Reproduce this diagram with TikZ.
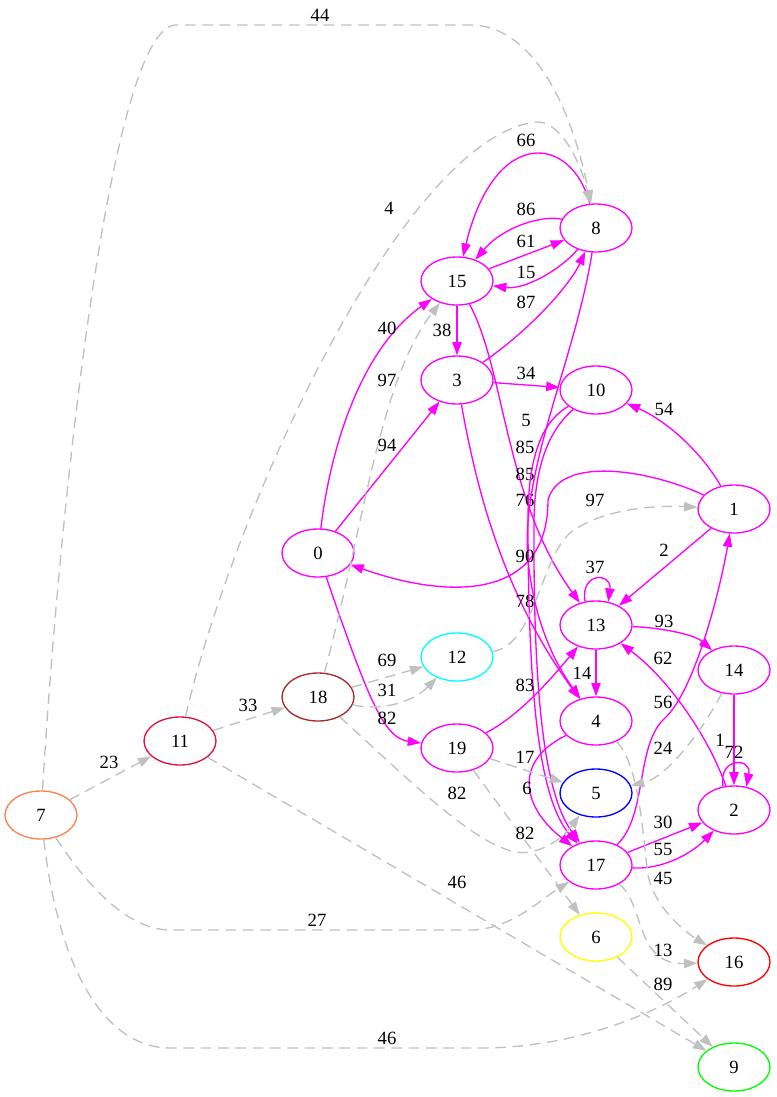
\documentclass[tikz,border=0pt]{standalone}
\usepackage{fontspec}
\setmainfont{Liberation Serif}
\usepackage{tikz}
\usetikzlibrary{shapes.geometric, arrows.meta}

\definecolor{mgt}{HTML}{FF00FF}
\definecolor{lgray}{HTML}{C0C0C0}
\definecolor{coralc}{HTML}{FF7F50}
\definecolor{crimsonc}{HTML}{DC143C}
\definecolor{brownc}{HTML}{A52A2A}
\definecolor{cyanc}{HTML}{00FFFF}
\definecolor{bluec}{HTML}{0000FF}
\definecolor{yellowc}{HTML}{FFFF00}
\definecolor{redc}{HTML}{FF0000}
\definecolor{greenc}{HTML}{00FF00}

\tikzset{
  vtx/.style={ellipse, draw=mgt, line width=1pt, minimum width=54pt,
    minimum height=36pt, inner sep=0pt, font=\fontsize{14}{16}\selectfont},
  lbl/.style={inner sep=0pt, font=\fontsize{14}{16}\selectfont},
  me/.style={draw=mgt, line width=1pt, -{Triangle[length=10pt,width=7pt]}},
  ge/.style={draw=lgray, line width=1pt, dash pattern=on 8pt off 5pt,
    -{Triangle[length=10pt,width=7pt]}}
}

\begin{document}
\begin{tikzpicture}[x=0.75pt, y=-0.75pt]
        % Fix the canvas to the size of the drawing
        \useasboundingbox (0,0) rectangle (776,1097);

        % Place the vertices
        \node[vtx] (n15) at (457,281) {15};
        \node[vtx] (n8) at (596,228) {8};
        \node[vtx] (n3) at (457,380) {3};
        \node[vtx] (n10) at (596,390) {10};
        \node[vtx] (n1) at (734,509) {1};
        \node[vtx] (n0) at (318,553) {0};
        \node[vtx] (n13) at (596,625) {13};
        \node[vtx, draw=cyanc] (n12) at (457,657) {12};
        \node[vtx] (n14) at (734,670) {14};
        \node[vtx, draw=brownc] (n18) at (318,697) {18};
        \node[vtx] (n4) at (596,721) {4};
        \node[vtx, draw=crimsonc] (n11) at (180,741) {11};
        \node[vtx] (n19) at (457,748) {19};
        \node[vtx, draw=bluec] (n5) at (596,793) {5};
        \node[vtx] (n2) at (734,810) {2};
        \node[vtx, draw=coralc] (n7) at (41,815) {7};
        \node[vtx] (n17) at (596,865) {17};
        \node[vtx, draw=yellowc] (n6) at (596,937) {6};
        \node[vtx, draw=redc] (n16) at (734,962) {16};
        \node[vtx, draw=greenc] (n9) at (734,1067) {9};

        % Solid edges
        \draw[me] (n0) .. controls (330,450) and (360,350) .. (n15) node[lbl] (w0-15) at (387,328) {40};
        \draw[me] (n0) -- (n3) node[lbl] (w0-3) at (387,445) {94};
        \draw[me] (n0) .. controls (370,705) and (385,738) .. (n19) node[lbl] (w0-19) at (387,718) {82};
        \draw[me] (n15) -- (n3) node[lbl] (w15-3) at (442,330) {38};
        \draw[me] (n15) -- (n8) node[lbl] (w15-8) at (526,241) {61};
        \draw[me] (n8) .. controls (545,215) and (505,225) .. (n15) node[lbl] (w8-15a) at (526,209) {86};
        \draw[me] (n8) .. controls (560,270) and (525,290) .. (n15) node[lbl] (w8-15b) at (526,272) {15};
        \draw[me] (n8) .. controls (572,135) and (495,125) .. (n15) node[lbl] (w8-15c) at (526,140) {66};
        \draw[me] (n3) .. controls (530,330) and (570,285) .. (n8) node[lbl] (w3-8) at (526,302) {87};
        \draw[me] (n3) -- (n10) node[lbl] (w3-10) at (526,373) {34};
        \draw[me] (n3) .. controls (475,480) and (500,590) .. (n4) node[lbl] (w3-4) at (525,601) {78};
        \draw[me] (n15) .. controls (505,370) and (505,500) .. (n13) node[lbl] (w15-13) at (525,500) {76};
        \draw[me] (n8) .. controls (575,360) and (520,470) .. (528,560) .. controls (535,630) and (560,670) .. (n4) node[lbl] (w8-4) at (525,474) {85};
        \draw[me] (n10) .. controls (545,420) and (528,450) .. (528,520) .. controls (528,700) and (540,800) .. (n17) node[lbl] (w10-17a) at (526,420) {5};
        \draw[me] (n10) .. controls (555,425) and (535,455) .. (534,520) .. controls (533,700) and (545,795) .. (n17) node[lbl] (w10-17b) at (525,447) {85};
        \draw[me] (n1) .. controls (700,450) and (665,420) .. (n10) node[lbl] (w1-10) at (664,409) {54};
        \draw[me] (n1) .. controls (650,470) and (560,455) .. (548,500) .. controls (548,600) and (450,600) .. (n0) node[lbl] (w1-0) at (525,556) {90};
        \draw[me] (n1) -- (n13) node[lbl] (w1-13) at (664,550) {2};
        \draw[me] (n13.115) .. controls (580,572) and (612,572) .. (n13.62) node[lbl] (w13-13) at (595,567) {37};
        \draw[me] (n13) .. controls (665,628) and (695,635) .. (n14) node[lbl] (w13-14) at (664,621) {93};
        \draw[me] (n13) -- (n4) node[lbl] (w13-4) at (582,673) {14};
        \draw[me] (n2) .. controls (710,740) and (670,680) .. (n13) node[lbl] (w2-13) at (663,658) {62};
        \draw[me] (n17) .. controls (648,815) and (635,745) .. (665,718) .. controls (695,690) and (720,590) .. (n1) node[lbl] (w17-1) at (663,702) {56};
        \draw[me] (n19) .. controls (520,715) and (550,680) .. (n13) node[lbl] (w19-13) at (525,685) {83};
        \draw[me] (n14) -- (n2) node[lbl] (w14-2) at (720,740) {1};
        \draw[me] (n2.115) .. controls (718,757) and (752,757) .. (n2.62) node[lbl] (w2-2) at (734,752) {72};
        \draw[me] (n17) -- (n2) node[lbl] (w17-2a) at (663,822) {30};
        \draw[me] (n17) .. controls (660,870) and (690,855) .. (n2) node[lbl] (w17-2b) at (663,849) {55};
        \draw[me] (n4) .. controls (515,760) and (520,805) .. (n17) node[lbl] (w4-17) at (527,788) {6};

        % Dashed edges
        \draw[ge] (n7) .. controls (60,500) and (110,30) .. (175,25) -- (470,25) .. controls (530,25) and (570,100) .. (n8) node[lbl] (w7-8) at (320,15) {44};
        \draw[ge] (n11) .. controls (230,520) and (400,140) .. (535,122) .. controls (560,120) and (580,160) .. (n8) node[lbl] (w11-8) at (389,208) {4};
        \draw[ge] (n7) -- (n11) node[lbl] (w7-11) at (109,762) {23};
        \draw[ge] (n11) -- (n18) node[lbl] (w11-18) at (248,705) {33};
        \draw[ge] (n18) -- (n12) node[lbl] (w18-12a) at (387,660) {69};
        \draw[ge] (n18) .. controls (385,712) and (415,700) .. (n12) node[lbl] (w18-12b) at (387,690) {31};
        \draw[ge] (n18) .. controls (365,520) and (380,380) .. (n15) node[lbl] (w18-15) at (387,380) {97};
        \draw[ge] (n12) .. controls (535,645) and (540,560) .. (570,533) .. controls (600,510) and (650,505) .. (n1) node[lbl] (w12-1) at (595,500) {97};
        \draw[ge] (n18) .. controls (420,790) and (490,860) .. (530,852) .. controls (550,848) and (565,835) .. (n5) node[lbl] (w18-5) at (457,793) {82};
        \draw[ge] (n19) -- (n5) node[lbl] (w19-5) at (525,757) {17};
        \draw[ge] (n19) -- (n6) node[lbl] (w19-6) at (525,833) {82};
        \draw[ge] (n14) .. controls (700,735) and (665,778) .. (n5) node[lbl] (w14-5) at (663,748) {24};
        \draw[ge] (n4) .. controls (640,765) and (643,840) .. (648,875) .. controls (655,910) and (690,935) .. (n16) node[lbl] (w4-16) at (663,878) {45};
        \draw[ge] (n17) .. controls (645,905) and (635,965) .. (n16) node[lbl] (w17-16) at (663,950) {13};
        \draw[ge] (n6) -- (n9) node[lbl] (w6-9) at (663,984) {89};
        \draw[ge] (n11) -- (n9) node[lbl] (w11-9) at (457,882) {46};
        \draw[ge] (n7) .. controls (90,890) and (130,930) .. (170,930) -- (470,930) .. controls (510,930) and (540,900) .. (n17) node[lbl] (w7-17) at (317,920) {27};
        \draw[ge] (n7) .. controls (60,980) and (110,1048) .. (170,1048) -- (480,1048) .. controls (580,1048) and (660,1010) .. (n16) node[lbl] (w7-16) at (387,1038) {46};
\end{tikzpicture}
\end{document}
